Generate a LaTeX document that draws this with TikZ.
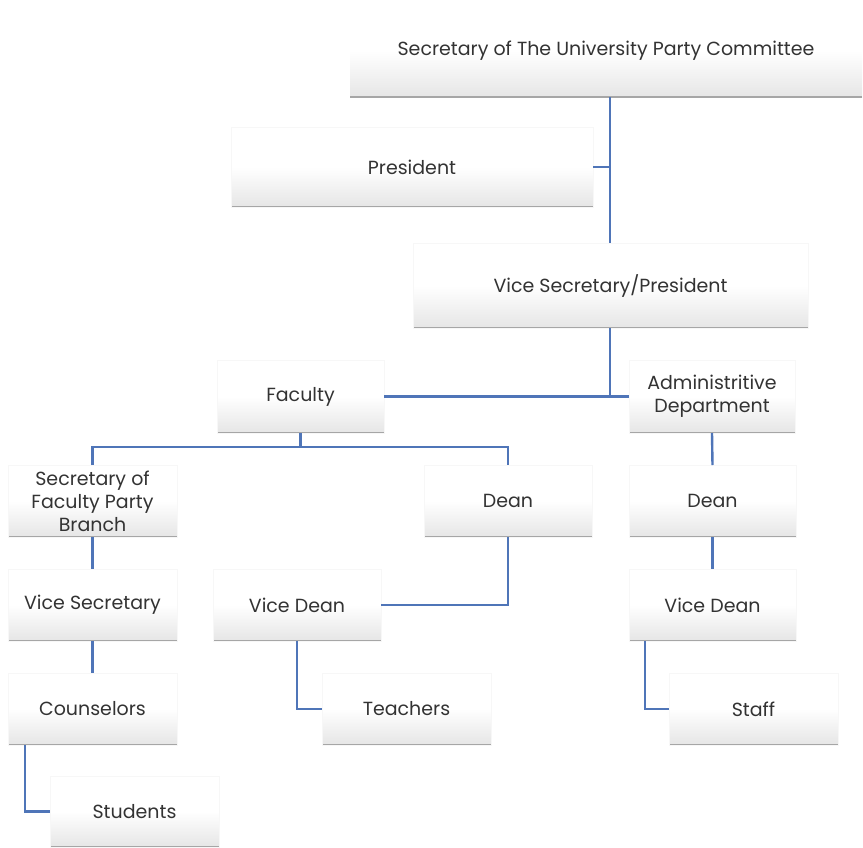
\documentclass[tikz,border=0pt]{standalone}
\usepackage{fontspec}
\setmainfont{Poppins}
\begin{document}
\begin{tikzpicture}[x=1pt,y=-1pt,
  box/.style={anchor=north west, inner sep=0pt, outer sep=0pt,
    top color=white, bottom color=black!10, middle color=white, draw=black!3, line width=0.4pt,
    text=black!80, font=\fontsize{19}{23}\selectfont, align=center,
    path picture={\draw[black!35, line width=2pt] (path picture bounding box.south west) -- (path picture bounding box.south east);}},
  link/.style={draw=linkblue, line width=2.4pt}]
\definecolor{linkblue}{HTML}{4F75B8}
\useasboundingbox (0,0) rectangle (863,847);
% nodes
\node[box, draw=none, minimum width=512, minimum height=92] (top) at (350,5) {Secretary of The University Party Committee};
\node[box, minimum width=362, minimum height=80] (pres) at (231,127) {President};
\node[box, minimum width=395, minimum height=85] (vice) at (413,243) {Vice Secretary/President};
\node[box, minimum width=167, minimum height=73] (fac) at (217,360) {Faculty};
\node[box, minimum width=166, minimum height=73] (adm) at (629,360) {Administritive\\Department};
\node[box, minimum width=169, minimum height=72] (sfb) at (8,465) {Secretary of\\Faculty Party\\Branch};
\node[box, minimum width=168, minimum height=72] (dean1) at (424,465) {Dean};
\node[box, minimum width=167, minimum height=72] (dean2) at (629,465) {Dean};
\node[box, minimum width=169, minimum height=72] (vsec) at (8,569) {Vice Secretary};
\node[box, minimum width=168, minimum height=72] (vdean1) at (213,569) {Vice Dean};
\node[box, minimum width=167, minimum height=72] (vdean2) at (629,569) {Vice Dean};
\node[box, minimum width=169, minimum height=72] (coun) at (8,673) {Counselors};
\node[box, minimum width=169, minimum height=72] (teach) at (322,673) {Teachers};
\node[box, minimum width=169, minimum height=72] (staff) at (669,673) {Staff};
\node[box, minimum width=169, minimum height=71] (stud) at (50,776) {Students};
% connectors
\coordinate (tb) at (610,97);
\draw[link] (top.south -| tb) -- (vice.north -| tb);
\draw[link] (pres.east) -- (pres.east -| tb);
\draw[link] (vice.south -| tb) -- (fac.east -| tb);
\draw[link] (fac.east) -- (adm.west);
\coordinate (fy) at (0,447);
\draw[link] (fac.south) -- (fac.south |- fy);
\draw[link] (sfb.north) -- (sfb.north |- fy) -- (dean1.north |- fy) -- (dean1.north);
\draw[link] (adm.south) -- (dean2.north);
\draw[link] (sfb.south) -- (vsec.north);
\draw[link] (vsec.south) -- (coun.north);
\coordinate (cx) at (25,0);
\draw[link] (coun.south -| cx) -- (stud.west -| cx) -- (stud.west);
\draw[link] (dean1.south) -- (dean1.south |- vdean1.east) -- (vdean1.east);
\draw[link] (vdean1.south) -- (vdean1.south |- teach.west) -- (teach.west);
\draw[link] (dean2.south) -- (vdean2.north);
\coordinate (sx) at (645,0);
\draw[link] (vdean2.south -| sx) -- (staff.west -| sx) -- (staff.west);
\end{tikzpicture}
\end{document}
